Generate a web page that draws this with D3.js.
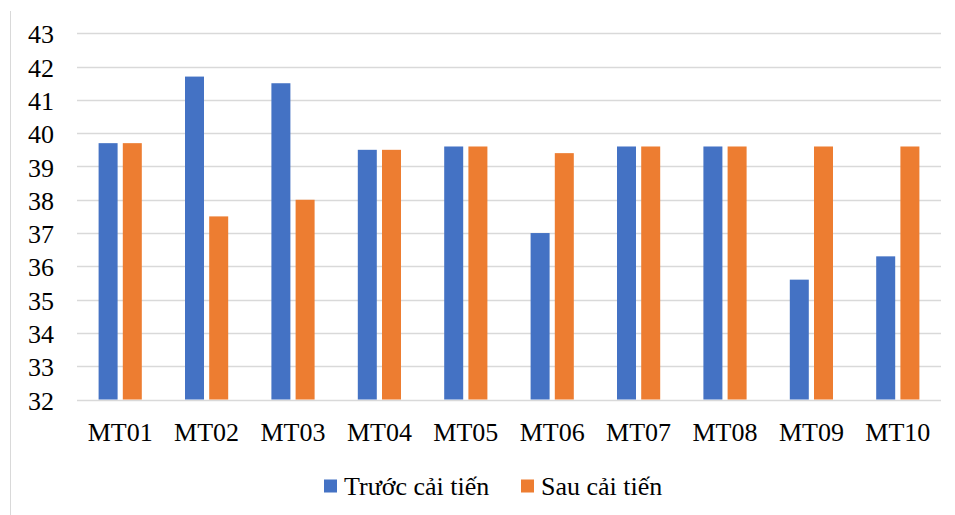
<!DOCTYPE html>
<html>
<head>
<meta charset="utf-8">
<script src="https://cdn.jsdelivr.net/npm/d3@7"></script>
<style>
  html, body { margin: 0; padding: 0; background: #fff; }
  svg { display: block; }
</style>
</head>
<body>
<svg id="chart" width="955" height="515"></svg>
<script>
// Categories and series values
const categories = ["MT01", "MT02", "MT03", "MT04", "MT05", "MT06", "MT07", "MT08", "MT09", "MT10"];
const seriesNames = ["Trước cải tiến", "Sau cải tiến"];
const truocValues = [39.7, 41.7, 41.5, 39.5, 39.6, 37.0, 39.6, 39.6, 35.6, 36.3];
const sauValues   = [39.7, 37.5, 38.0, 39.5, 39.6, 39.4, 39.6, 39.6, 39.6, 39.6];
const yTicks = [32, 33, 34, 35, 36, 37, 38, 39, 40, 41, 42, 43];
const colors = ["#4472C4", "#ED7D31"];

const seriesValues = [truocValues, sauValues];
const serif = "'Liberation Serif', 'Times New Roman', serif";

const svg = d3.select("#chart");
const plotLeft = 77, plotRight = 941, plotTop = 33.3, plotBottom = 399.5;

// Outer chart frame edge
svg.append("line")
  .attr("x1", 10.5).attr("x2", 10.5)
  .attr("y1", 11).attr("y2", 515)
  .attr("stroke", "#d9d9d9").attr("stroke-width", 1);

const x = d3.scaleBand().domain(categories).range([plotLeft, plotRight]).padding(0);
const bw = x.bandwidth();
const xs = d3.scaleBand().domain(seriesNames)
  .range([bw / 2 - 21.6, bw / 2 + 21.6])
  .paddingInner(0.215).paddingOuter(0);
const y = d3.scaleLinear().domain([32, 43]).range([plotBottom, plotTop]);

// Horizontal gridlines
svg.append("g")
  .selectAll("line")
  .data(yTicks)
  .join("line")
  .attr("x1", plotLeft).attr("x2", plotRight)
  .attr("y1", d => Math.round(y(d)) + 0.5)
  .attr("y2", d => Math.round(y(d)) + 0.5)
  .attr("stroke", "#d9d9d9").attr("stroke-width", 1.3);

// Y axis labels
const yAxis = d3.axisLeft(y).tickValues(yTicks).tickSize(0).tickPadding(0).tickFormat(d3.format("d"));
const gy = svg.append("g").attr("transform", `translate(${54},0)`).call(yAxis);
gy.select(".domain").remove();
gy.selectAll("text")
  .style("font-family", serif)
  .style("font-size", "26px").attr("fill", "#000").attr("dy", "0.37em");

// Bars
const groups = svg.append("g")
  .selectAll("g")
  .data(seriesNames.map((name, i) => ({ name, i, values: seriesValues[i] })))
  .join("g")
  .attr("fill", d => colors[d.i]);

groups.selectAll("rect")
  .data(d => d.values.map((v, k) => ({ name: d.name, cat: categories[k], v })))
  .join("rect")
  .attr("x", d => x(d.cat) + xs(d.name))
  .attr("width", xs.bandwidth())
  .attr("y", d => y(d.v))
  .attr("height", d => y(32) - y(d.v));

// X axis labels
const xAxis = d3.axisBottom(x).tickSize(0).tickPadding(0);
const gx = svg.append("g").attr("transform", `translate(0,${plotBottom})`).call(xAxis);
gx.select(".domain").remove();
gx.selectAll("text")
  .style("font-family", serif)
  .style("font-size", "26px").attr("fill", "#000")
  .attr("dy", null).attr("y", 41);

// Legend
const legendItems = [
  { name: seriesNames[0], color: colors[0], sx: 324, tx: 344 },
  { name: seriesNames[1], color: colors[1], sx: 521, tx: 541 }
];
const lg = svg.append("g");
lg.selectAll("rect")
  .data(legendItems)
  .join("rect")
  .attr("x", d => d.sx).attr("y", 479.5)
  .attr("width", 13).attr("height", 13)
  .attr("fill", d => d.color);
lg.selectAll("text")
  .data(legendItems)
  .join("text")
  .attr("x", d => d.tx).attr("y", 495)
  .style("font-family", serif)
  .style("font-size", "26px")
  .attr("fill", "#000")
  .text(d => d.name);
</script>
</body>
</html>
